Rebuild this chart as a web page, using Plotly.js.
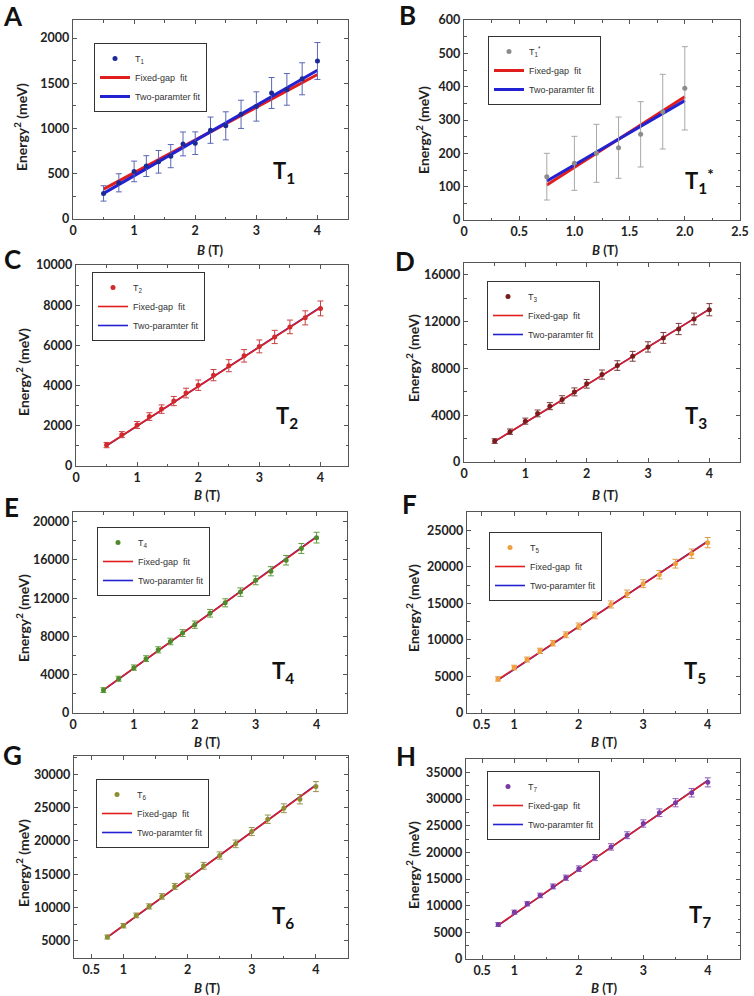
<!DOCTYPE html>
<html><head><meta charset="utf-8">
<script src="https://cdn.plot.ly/plotly-3.0.1.min.js"></script>
<style>html,body{margin:0;padding:0;background:#fff}#chart{width:754px;height:996px}</style>
</head><body><div id="chart"></div>
<script>
// ---------- data ----------
const bStd  = [0.5,0.75,1.0,1.2,1.4,1.6,1.8,2.0,2.25,2.5,2.75,3.0,3.25,3.5,3.75,4.0];
const bLate = [0.75,1.0,1.2,1.4,1.6,1.8,2.0,2.25,2.5,2.75,3.0,3.25,3.5,3.75,4.0];
const bT1s  = [0.75,1.0,1.2,1.4,1.6,1.8,2.0];

const fitStd  = [0.5, 4.0];
const fitLate = [0.75, 4.0];
const fitT1s  = [0.75, 2.0];

// T1
const yT1 = [283,400,526,585,632,695,830,838,982,1030,1157,1244,1393,1433,1550,1747];
const eT1 = [85,100,114,115,125,128,132,125,145,155,156,162,171,175,177,204];
const fixT1 = [331,1597];
const twoT1 = [283,1645];
// T1*
const yT1s = [130,170,200,217,257,325,395];
const eT1s = [70,81,87,92,98,112,125];
const fixT1s = [105,370];
const twoT1s = [117,358];
// T2
const yT2 = [1040,1560,2040,2460,2830,3230,3630,4020,4520,4990,5480,5950,6420,6920,7370,7840];
const eT2 = [130,150,170,190,210,230,240,260,280,300,310,320,330,340,350,370];
const fixT2 = [1020,7880];
const twoT2 = [1000,7900];
// T3
const yT3 = [1790,2590,3490,4150,4770,5340,5990,6680,7470,8240,9030,9830,10600,11360,12220,13010];
const eT3 = [200,230,260,290,300,320,340,370,390,410,420,440,460,480,500,520];
const fixT3 = [1760,13040];
const twoT3 = [1740,13060];
// T4
const yT4 = [2390,3580,4740,5680,6600,7470,8350,9230,10420,11510,12630,13860,14810,15960,17190,18320];
const eT4 = [250,260,280,300,320,340,360,380,400,420,440,460,480,500,520,560];
const fixT4 = [2420,18380];
const twoT4 = [2380,18420];
// T5
const yT5 = [4660,6220,7310,8500,9550,10700,11880,13350,14850,16310,17690,18920,20430,21800,23310];
const eT5 = [300,320,340,360,380,400,430,460,480,510,540,570,600,640,700];
const fixT5 = [4550,23450];
const twoT5 = [4500,23500];
// T6
const yT6 = [5550,7250,8800,10150,11650,13150,14650,16250,17800,19550,21400,23250,24900,26250,28150];
const eT6 = [300,330,360,390,420,450,480,510,540,570,600,630,660,700,750];
const fixT6 = [5550,28350];
const twoT6 = [5500,28400];
// T7
const yT7 = [6460,8780,10350,11920,13610,15240,16940,19010,21020,23210,25410,27420,29300,31180,33120];
const eT7 = [350,380,400,430,460,490,520,560,600,640,680,720,760,800,850];
const fixT7 = [6350,33450];
const twoT7 = [6300,33500];

const seriesNames = ['T<sub>1</sub>','T<sub>1</sub><sup>*</sup>','T<sub>2</sub>','T<sub>3</sub>','T<sub>4</sub>','T<sub>5</sub>','T<sub>6</sub>','T<sub>7</sub>'];
const panelLetters = ['A','B','C','D','E','F','G','H'];
const fixedName = 'Fixed-gap  fit';
const twoName = 'Two-paramter fit';
const xTitle = '<i>B</i> (T)';
const yTitle = 'Energy<sup>2</sup> (meV)';
const bTicksVals = [0,0.5,1,1.5,2,2.5];
const bTicksText = ['0','0.5','1.0','1.5','2.0','2.5'];
const lateTickVals = [0.5,1,2,3,4];

const seriesData = [
  {x:bStd,  y:yT1,  e:eT1,  fx:fitStd,  fix:fixT1,  two:twoT1},
  {x:bT1s,  y:yT1s, e:eT1s, fx:fitT1s,  fix:fixT1s, two:twoT1s},
  {x:bStd,  y:yT2,  e:eT2,  fx:fitStd,  fix:fixT2,  two:twoT2},
  {x:bStd,  y:yT3,  e:eT3,  fx:fitStd,  fix:fixT3,  two:twoT3},
  {x:bStd,  y:yT4,  e:eT4,  fx:fitStd,  fix:fixT4,  two:twoT4},
  {x:bLate, y:yT5,  e:eT5,  fx:fitLate, fix:fixT5,  two:twoT5},
  {x:bLate, y:yT6,  e:eT6,  fx:fitLate, fix:fixT6,  two:twoT6},
  {x:bLate, y:yT7,  e:eT7,  fx:fitLate, fix:fixT7,  two:twoT7}
];

// ---------- styles / geometry ----------
const W = 754, H = 996;
const panels = [
  {box:[73,348,20,219],  xr:[0,4.5],     yr:[0,2200],     ydt:500,  ymn:250,  xm:'int',  leg:[94,43],   lab:[13,16],   ytl:[20,127],  xtl:[210,250], tl:[284,172], mc:'#1c2a96', ec:'#5a66b4', lw:3,   blueTop:true},
  {box:[464,740,20,220], xr:[0,2.5],     yr:[0,600],      ydt:100,  ymn:50,   xm:'b',    leg:[488,36],  lab:[407,15],  ytl:[422,130], xtl:[605,250], tl:[699,181], mc:'#8c8c8c', ec:'#a8a8a8', lw:3,   blueTop:true},
  {box:[76,348,265,466], xr:[0,4.45],    yr:[0,10000],    ydt:2000, ymn:1000, xm:'int',  leg:[92,272],  lab:[12,259],  ytl:[22,372],  xtl:[207,495], tl:[287,417], mc:'#d22a2a', ec:'#c84040', lw:1.6, blueTop:false},
  {box:[464,740,263,462],xr:[0,4.5],     yr:[0,17000],    ydt:4000, ymn:2000, xm:'int',  leg:[487,281], lab:[405,261], ytl:[412,358], xtl:[605,495], tl:[696,417], mc:'#7a1c1c', ec:'#7a3a3a', lw:1.6, blueTop:false},
  {box:[73,347,512,713], xr:[0,4.5],     yr:[0,21000],    ydt:4000, ymn:2000, xm:'int',  leg:[97,527],  lab:[11,507],  ytl:[22,618],  xtl:[207,742], tl:[283,672], mc:'#4e8a2a', ec:'#5e9e3a', lw:1.6, blueTop:false},
  {box:[467,740,512,713],xr:[0.27,4.5],  yr:[0,27500],    ydt:5000, ymn:2500, xm:'late', leg:[489,532], lab:[410,504], ytl:[412,608], xtl:[604,742], tl:[695,672], mc:'#f0a040', ec:'#e09a48', lw:1.6, blueTop:false},
  {box:[74,348,756,958], xr:[0.23,4.5],  yr:[2400,32750], ydt:5000, ymn:2500, xm:'late', leg:[96,779],  lab:[12,755],  ytl:[22,863],  xtl:[207,988], tl:[283,917], mc:'#8c8c30', ec:'#94944a', lw:1.6, blueTop:false},
  {box:[466,740,759,959],xr:[0.25,4.5],  yr:[0,37500],    ydt:5000, ymn:2500, xm:'late', leg:[487,771], lab:[406,756], ytl:[412,865], xtl:[604,988], tl:[700,916], mc:'#7a3aa6', ec:'#8a58b8', lw:1.6, blueTop:false}
];

const tickFont = {family:'Lato, "Open Sans", sans-serif', size:12.5, color:'#222', weight:700};
const lineCol = '#555';
const RED = '#e01e1e', BLUE = '#2222d2';

const traces = [];
const layout = {
  width:W, height:H, margin:{l:0,r:0,t:0,b:0},
  paper_bgcolor:'#fff', plot_bgcolor:'#fff', showlegend:true,
  annotations:[]
};

panels.forEach((p, i) => {
  const n = i + 1;
  const xa = 'x' + (n === 1 ? '' : n), ya = 'y' + (n === 1 ? '' : n);
  const legId = 'legend' + (n === 1 ? '' : n);
  const s = seriesData[i];

  const fixedTr = {type:'scatter', mode:'lines', x:s.fx, y:s.fix, name:fixedName,
    line:{color:RED, width:p.lw}, xaxis:xa, yaxis:ya, legend:legId, legendrank:2, hoverinfo:'skip'};
  const twoTr = {type:'scatter', mode:'lines', x:s.fx, y:s.two, name:twoName,
    line:{color:BLUE, width:p.lw}, xaxis:xa, yaxis:ya, legend:legId, legendrank:3, hoverinfo:'skip'};
  const dataTr = {type:'scatter', mode:'markers', x:s.x, y:s.y, name:seriesNames[i],
    marker:{color:p.mc, size:5},
    error_y:{type:'data', array:s.e, visible:true, color:p.ec, thickness:1, width:3},
    xaxis:xa, yaxis:ya, legend:legId, legendrank:1};
  if (p.blueTop) traces.push(fixedTr, twoTr, dataTr); else traces.push(twoTr, fixedTr, dataTr);

  const [l, r, t, b] = p.box;
  const xkey = 'xaxis' + (n === 1 ? '' : n), ykey = 'yaxis' + (n === 1 ? '' : n);
  const xax = {
    domain:[l/W, r/W], anchor:ya, range:p.xr, showgrid:false, zeroline:false,
    showline:true, linecolor:lineCol, linewidth:1.3, mirror:'ticks',
    ticks:'inside', ticklen:4, tickcolor:lineCol, tickwidth:1, tickfont:tickFont
  };
  if (p.xm === 'int') { xax.tickmode = 'linear'; xax.tick0 = 0; xax.dtick = 1;
    xax.minor = {tickmode:'linear', tick0:0, dtick:0.5, ticks:'inside', ticklen:2.5, tickcolor:lineCol}; }
  else if (p.xm === 'b') { xax.tickmode = 'array'; xax.tickvals = bTicksVals; xax.ticktext = bTicksText;
    xax.minor = {tickmode:'linear', tick0:0, dtick:0.25, ticks:'inside', ticklen:2.5, tickcolor:lineCol}; }
  else { xax.tickmode = 'array'; xax.tickvals = lateTickVals;
    xax.minor = {tickmode:'linear', tick0:0, dtick:0.5, ticks:'inside', ticklen:2.5, tickcolor:lineCol}; }
  layout[xkey] = xax;

  layout[ykey] = {
    domain:[1 - b/H, 1 - t/H], anchor:xa, range:p.yr, showgrid:false, zeroline:false,
    showline:true, linecolor:lineCol, linewidth:1.3, mirror:'ticks',
    ticks:'inside', ticklen:4, tickcolor:lineCol, tickwidth:1, tickfont:tickFont,
    tickmode:'linear', tick0:0, dtick:p.ydt, tickformat:'d',
    minor:{tickmode:'linear', tick0:0, dtick:p.ymn, ticks:'inside', ticklen:2.5, tickcolor:lineCol}
  };

  layout[legId] = {
    x:p.leg[0]/W, y:1 - p.leg[1]/H, xanchor:'left', yanchor:'top',
    bgcolor:'#fff', bordercolor:'#333', borderwidth:1,
    font:{family:'"Liberation Sans", Arial, sans-serif', size:9, color:'#333'},
    itemwidth:30, tracegroupgap:0
  };

  const ann = layout.annotations;
  ann.push({xref:'paper', yref:'paper', x:p.lab[0]/W, y:1 - p.lab[1]/H, xanchor:'center', yanchor:'middle',
    text:panelLetters[i], showarrow:false, font:{family:'Lato, sans-serif', size:26, color:'#111', weight:700}});
  ann.push({xref:'paper', yref:'paper', x:p.ytl[0]/W, y:1 - p.ytl[1]/H, xanchor:'center', yanchor:'middle',
    textangle:-90, text:yTitle, showarrow:false, font:{family:'Lato, sans-serif', size:14, color:'#222', weight:700}});
  ann.push({xref:'paper', yref:'paper', x:p.xtl[0]/W, y:1 - p.xtl[1]/H, xanchor:'center', yanchor:'middle',
    text:xTitle, showarrow:false, font:{family:'Lato, sans-serif', size:13, color:'#222', weight:700}});
  ann.push({xref:'paper', yref:'paper', x:p.tl[0]/W, y:1 - p.tl[1]/H, xanchor:'center', yanchor:'middle',
    text:'<b>' + seriesNames[i] + '</b>', showarrow:false, font:{family:'Lato, sans-serif', size:22, color:'#111', weight:700}});
});

Plotly.newPlot('chart', traces, layout, {staticPlot:true, displayModeBar:false});
</script>
</body></html>
